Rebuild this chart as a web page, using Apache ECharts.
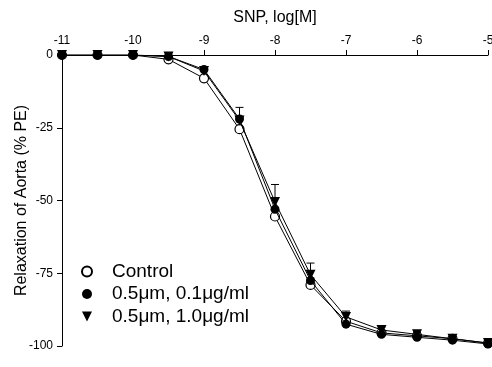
<!DOCTYPE html>
<html>
<head>
<meta charset="utf-8">
<script src="https://cdn.jsdelivr.net/npm/echarts@6/dist/echarts.min.js"></script>
<style>
  html, body { margin: 0; padding: 0; background: #fff; }
  #chart { width: 492px; height: 367px; }
</style>
</head>
<body>
<div id="chart"></div>
<script>
// log concentration of SNP
const doses = [-11, -10.5, -10, -9.5, -9, -8.5, -8, -7.5, -7, -6.5, -6, -5.5, -5]
const control = [0, 0, 0, -1.5, -8, -25.5, -55.5, -79, -91.5, -95.5, -96.5, -97.5, -99]
const lowDose = [0, 0, 0, -0.5, -5, -22, -53, -77.5, -92.5, -96, -97, -98, -99.3]
const highDose = [0, 0, 0, -0.5, -5.5, -22.5, -50.5, -75.5, -90, -94.5, -96, -97.5, -99]
// [dose, mean, upper end of SEM]
const errBars = [
  [-8.5, -22, -18],
  [-8, -50.5, -44.5],
  [-7.5, -75.5, -71.5],
  [-7, -90, -88],
  [-6.5, -94.5, -93.5],
  [-6, -96, -95.3],
]
const names = ['Control', '0.5μm, 0.1μg/ml', '0.5μm, 1.0μg/ml']
const triDown = 'path://M0,0 L10,0 L5,10 Z'

const pairs = (ys) => doses.map((x, i) => [x, ys[i]])
const font = 'Liberation Sans, Arial, sans-serif'

const chart = echarts.init(document.getElementById('chart'))
chart.setOption({
  animation: false,
  textStyle: { fontFamily: font, color: '#000' },
  grid: { left: 62, right: 4, top: 55, bottom: 21, outerBoundsMode: 'none', containLabel: false },
  legend: {
    orient: 'vertical',
    left: 76,
    top: 257,
    itemWidth: 10,
    itemHeight: 10,
    itemGap: 3.5,
    textStyle: { fontSize: 19, color: '#000', fontFamily: font, padding: [0, 0, 0, 15] },
    data: [
      { name: names[0], icon: 'circle' },
      { name: names[1], icon: 'circle' },
      { name: names[2], icon: triDown },
    ],
  },
  xAxis: {
    type: 'value',
    position: 'top',
    min: -11,
    max: -5,
    interval: 1,
    name: 'SNP, log[M]',
    nameLocation: 'middle',
    nameGap: 29,
    nameMoveOverlap: false,
    nameTextStyle: { fontSize: 16, color: '#000' },
    axisLine: { lineStyle: { color: '#000', width: 1 } },
    axisTick: { length: 5, lineStyle: { color: '#000' } },
    axisLabel: { fontSize: 12, color: '#000', margin: 8 },
    splitLine: { show: false },
  },
  yAxis: {
    type: 'value',
    min: -100,
    max: 0,
    interval: 25,
    name: 'Relaxation of Aorta (% PE)',
    nameLocation: 'middle',
    nameGap: 32,
    nameMoveOverlap: false,
    nameRotate: 90,
    nameTextStyle: { fontSize: 16, color: '#000' },
    axisLine: { lineStyle: { color: '#000', width: 1 } },
    axisTick: { length: 5, lineStyle: { color: '#000' } },
    axisLabel: { fontSize: 12, color: '#000', margin: 9 },
    splitLine: { show: false },
  },
  series: [
    {
      name: names[0],
      type: 'line',
      data: pairs(control),
      symbol: 'circle',
      symbolSize: 9,
      lineStyle: { color: '#000', width: 1 },
      itemStyle: { color: '#fff', borderColor: '#000', borderWidth: 1.2 },
      z: 2,
    },
    {
      name: names[2],
      type: 'line',
      data: pairs(highDose),
      symbol: triDown,
      symbolSize: 10,
      lineStyle: { color: '#000', width: 1 },
      itemStyle: { color: '#000' },
      z: 3,
    },
    {
      name: names[1],
      type: 'line',
      data: pairs(lowDose),
      symbol: 'circle',
      symbolSize: 9,
      lineStyle: { color: '#000', width: 1 },
      itemStyle: { color: '#000' },
      z: 4,
    },
    {
      type: 'custom',
      data: errBars,
      z: 1,
      renderItem(params, api) {
        const base = api.coord([api.value(0), api.value(1)])
        const top = api.coord([api.value(0), api.value(2)])
        const style = { stroke: '#000', lineWidth: 1 }
        return {
          type: 'group',
          children: [
            { type: 'line', shape: { x1: base[0], y1: base[1], x2: top[0], y2: top[1] }, style },
            { type: 'line', shape: { x1: top[0] - 4, y1: top[1], x2: top[0] + 4, y2: top[1] }, style },
          ],
        }
      },
    },
  ],
})
</script>
</body>
</html>
